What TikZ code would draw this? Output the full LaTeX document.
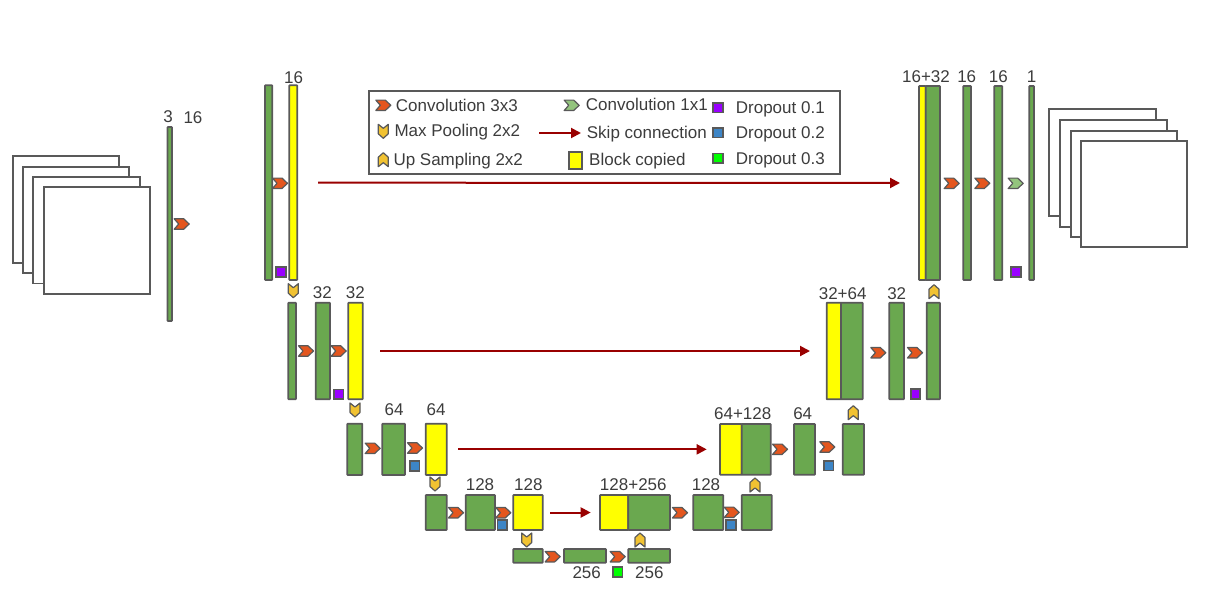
\documentclass[tikz,border=0pt]{standalone}
\usepackage{fontspec}
\setmainfont{Liberation Sans}
\usetikzlibrary{arrows.meta}
\definecolor{gr}{HTML}{6AA84F}
\definecolor{yl}{HTML}{FFFF00}
\definecolor{ln}{HTML}{595959}
\definecolor{cv}{HTML}{E4561E}
\definecolor{cvone}{HTML}{93C47D}
\definecolor{gd}{HTML}{F1C232}
\definecolor{sk}{HTML}{990000}
\definecolor{pu}{HTML}{9900FF}
\definecolor{bl}{HTML}{3D85C6}
\definecolor{gn}{HTML}{00FF00}
\definecolor{tx}{HTML}{3C3C3C}
\newcommand\blk[6]{\node[blkbase,#6,minimum width={(#4-#2)*1pt},minimum height={(#5-#3)*1pt}] (#1) at ({(#2+#4)/2},{(#3+#5)/2}) {};}
\newcommand\frm[5]{\node[frame,minimum width={(#4-#2)*1pt},minimum height={(#5-#3)*1pt}] (#1) at ({(#2+#4)/2},{(#3+#5)/2}) {};}
\tikzset{
  blkbase/.style={draw=ln,line width=1.8pt,inner sep=0pt,outer sep=0pt,rounded corners=0.6pt},
  gb/.style={fill=gr},
  yb/.style={fill=yl},
  frame/.style={draw=ln,fill=white,line width=1.8pt,inner sep=0pt,outer sep=0pt},
  icon/.style={draw=ln,line width=1.2pt,line join=round},
  conv/.pic={\draw[icon,fill=cv] (-7.5,-5.2) -- (2,-5.2) -- (7.5,0) -- (2,5.2) -- (-7.5,5.2) -- (-3,0) -- cycle;},
  convone/.pic={\draw[icon,fill=cvone] (-7.5,-5.2) -- (2,-5.2) -- (7.5,0) -- (2,5.2) -- (-7.5,5.2) -- (-3,0) -- cycle;},
  pool/.pic={\draw[icon,fill=gd] (-5,-7) -- (0,-3) -- (5,-7) -- (5,2.5) -- (0,7) -- (-5,2.5) -- cycle;},
  ups/.pic={\draw[icon,fill=gd] (-5,7) -- (0,3) -- (5,7) -- (5,-2.5) -- (0,-7) -- (-5,-2.5) -- cycle;},
  drop/.style={draw=ln,line width=1.6pt,inner sep=0pt,outer sep=0pt,minimum size=9.5pt},
  lab/.style={text=tx,font=\fontsize{17}{20}\selectfont,inner sep=0pt},
  leg/.style={text=tx,font=\fontsize{17}{20}\selectfont,inner sep=0pt,anchor=base west},
  skip/.style={draw=sk,line width=2pt,-{Triangle[length=10pt,width=10pt]}},
}
\begin{document}
\begin{tikzpicture}[x=1pt,y=-1pt]
\useasboundingbox (0,0) rectangle (1210,603);
% input frames
\frm{fi1}{12.7}{155.7}{119}{263}
\frm{fi2}{22.7}{166.7}{129}{273}
\frm{fi3}{32.7}{177}{140}{283.5}
\frm{fi4}{43.7}{187}{150}{294}
% output frames
\frm{fo1}{1049.3}{109.3}{1156}{216}
\frm{fo2}{1060}{120}{1166.7}{226.7}
\frm{fo3}{1070.7}{130.7}{1177.3}{237.3}
\frm{fo4}{1081}{141}{1187.3}{247.3}
% level 0/1
\blk{in}{167.5}{127}{172}{321}{gb}
\blk{a1}{265}{85.3}{272.3}{280}{gb}
\blk{a2}{289.3}{85.3}{297.3}{280}{yb}
\blk{r1y}{919}{86}{925.7}{280}{yb}
\blk{r1g}{925.7}{86}{940}{280}{gb}
\blk{r1b}{963.3}{86}{971}{280}{gb}
\blk{r1c}{994.3}{86}{1002.3}{280}{gb}
\blk{r1d}{1029.3}{86}{1034}{280}{gb}
% level 2
\blk{b1}{288.3}{302.7}{296}{399.3}{gb}
\blk{b2}{315.7}{302.7}{330}{399.3}{gb}
\blk{b3}{348.3}{302.7}{362.7}{399.3}{yb}
\blk{r2y}{826.7}{302.7}{841}{399.3}{yb}
\blk{r2g}{841}{302.7}{862.7}{399.3}{gb}
\blk{r2b}{889.3}{302.7}{904}{399.3}{gb}
\blk{r2c}{926.7}{302.7}{940}{399.3}{gb}
% level 3
\blk{c1}{347.3}{423.7}{362.3}{475}{gb}
\blk{c2}{382.3}{423.7}{405}{475}{gb}
\blk{c3}{425.7}{423.7}{446.7}{475}{yb}
\blk{r3y}{720}{424}{741.7}{474.7}{yb}
\blk{r3g}{741.7}{424}{770.7}{474.7}{gb}
\blk{r3b}{794}{424}{815}{474.7}{gb}
\blk{r3c}{842.7}{424}{864}{474.7}{gb}
% level 4
\blk{d1}{425.7}{495}{446.7}{530}{gb}
\blk{d2}{465.7}{495}{495}{530}{gb}
\blk{d3}{513.3}{495}{542.7}{530}{yb}
\blk{r4y}{600}{495}{628.3}{530}{yb}
\blk{r4g}{628.3}{495}{670}{530}{gb}
\blk{r4b}{693.3}{495}{723.3}{530}{gb}
\blk{r4c}{741.7}{495}{771.7}{530}{gb}
% bottom
\blk{e1}{513.3}{549}{542.7}{562.7}{gb}
\blk{e2}{564}{549}{606}{562.7}{gb}
\blk{e3}{628.3}{549}{670}{562.7}{gb}
% conv icons
\foreach \x/\y in {181.7/224,280/183.3,951.7/183.3,982.3/183.3,306/351,338.7/351,878.3/352.7,915/352.7,372.7/448.3,415/448,780/449.3,827.3/447,456/512.7,503.3/512.7,680/512.7,731.7/512.3,552.7/556.7,617.7/556.7,383.3/105.3}
  \pic at (\x,\y) {conv};
\foreach \x/\y in {1015.7/183.3,571.7/105.3}
  \pic at (\x,\y) {convone};
\foreach \x/\y in {293.3/290.7,355/410,435/484,526.7/540,383.3/131.3}
  \pic at (\x,\y) {pool};
\foreach \x/\y in {934/291.7,853.3/412.7,755/485,640/540,383.3/159.7}
  \pic at (\x,\y) {ups};
% dropout squares
\node[drop,fill=pu] (p1) at (281,272) {};
\node[drop,fill=pu] (p2) at (1016,272) {};
\node[drop,fill=pu] (p3) at (338.7,394.3) {};
\node[drop,fill=pu] (p4) at (915.5,394) {};
\node[drop,fill=bl] (q1) at (414.8,466) {};
\node[drop,fill=bl] (q2) at (828.7,465.7) {};
\node[drop,fill=bl] (q3) at (502.3,525) {};
\node[drop,fill=bl] (q4) at (731,525) {};
\node[drop,fill=gn] (g1) at (617.7,572) {};
% skip connections
\draw[skip,shorten <=20.7pt,shorten >=19pt] (a2.east) -- (r1y.west);
\draw[skip,shorten <=17.3pt,shorten >=16.7pt] (b3.east) -- (r2y.west);
\draw[skip,shorten <=11.3pt,shorten >=13.3pt] (c3.east) -- (r3y.west);
\draw[skip,shorten <=7.3pt,shorten >=9.3pt] (d3.east) -- (r4y.west);
% labels
\node[lab] (l0a) at (168,117) {3};
\node[lab] (l0b) at (193,118) {16};
\node[lab] (l1a) at (293.5,77.5) {16};
\node[lab] (l2a) at (322.3,292.7) {32};
\node[lab] (l2b) at (355.3,292.7) {32};
\node[lab] (l3a) at (394,410) {64};
\node[lab] (l3b) at (436,410) {64};
\node[lab] (l4a) at (480,485) {128};
\node[lab] (l4b) at (528.3,485) {128};
\node[lab] (l4c) at (633.3,485) {128+256};
\node[lab] (l5a) at (586.7,573) {256};
\node[lab] (l5b) at (649.3,573) {256};
\node[lab] (l4d) at (706,485) {128};
\node[lab] (l3c) at (742.7,414) {64+128};
\node[lab] (l3d) at (802.7,414) {64};
\node[lab] (l2c) at (842.7,294) {32+64};
\node[lab] (l2d) at (896.7,294) {32};
\node[lab] (l1b) at (926,76.5) {16+32};
\node[lab] (l1c) at (966.7,76.5) {16};
\node[lab] (l1d) at (998.3,76.5) {16};
\node[lab] (l1e) at (1031.7,76.5) {1};
% legend
\node[draw=ln,line width=1.8pt,inner sep=0pt,minimum width=471pt,minimum height=82.7pt] (legend) at (604.5,132.7) {};
\node[leg] (t1) at (395.7,111.3) {Convolution 3x3};
\node[leg] (t2) at (394.3,136.5) {Max Pooling 2x2};
\node[leg] (t3) at (393.3,165.3) {Up Sampling 2x2};
\node[leg] (t4) at (585.7,110.7) {Convolution 1x1};
\node[leg] (t5) at (586.7,138.7) {Skip connection};
\node[leg] (t6) at (589,165.3) {Block copied};
\node[leg] (t7) at (735.7,113.7) {Dropout 0.1};
\node[leg] (t8) at (735.7,138.7) {Dropout 0.2};
\node[leg] (t9) at (735.7,164) {Dropout 0.3};
\coordinate (sa) at (539,133);
\coordinate (sb) at (581,133);
\draw[skip] (sa) -- (sb);
\node[draw=ln,line width=1.8pt,fill=yl,inner sep=0pt,minimum width=13pt,minimum height=17pt] (ky) at (575.3,160.2) {};
\node[drop,fill=pu] (kp) at (718,107.7) {};
\node[drop,fill=bl] (kb) at (718,132.7) {};
\node[drop,fill=gn] (kg) at (718,158.3) {};
\end{tikzpicture}
\end{document}
